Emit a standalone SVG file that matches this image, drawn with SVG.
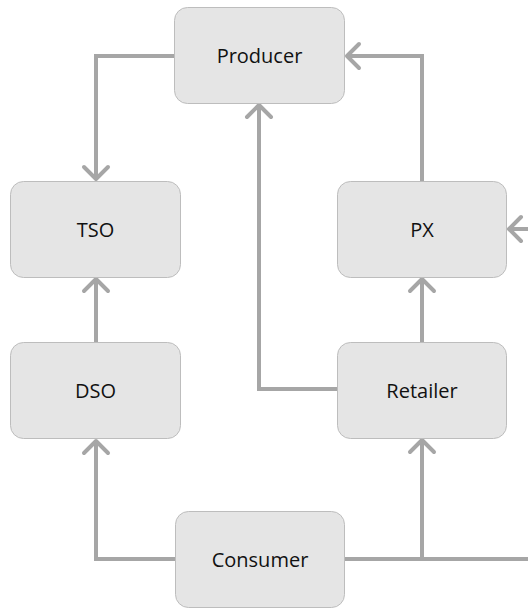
<svg xmlns="http://www.w3.org/2000/svg" width="528" height="608" viewBox="0 0 528 608">
  <style>
    .node rect { fill: #e5e5e5; stroke: #bdbdbd; stroke-width: 1; }
    .node text { font-family: "Open Sans", "Liberation Sans", sans-serif; font-size: 20px; fill: #111; text-anchor: middle; }
    .conn path { fill: none; stroke: #a6a6a6; stroke-width: 4; stroke-linejoin: miter; }
  </style>
  <defs>
    <marker id="chevron" markerUnits="userSpaceOnUse" markerWidth="30" markerHeight="30" viewBox="0 0 30 30" refX="16" refY="15" orient="auto" overflow="visible">
      <path d="M4,3 L16,15 L4,27" fill="none" stroke="#a6a6a6" stroke-width="4" stroke-linecap="round" stroke-linejoin="round"/>
    </marker>
  </defs>

  <rect width="528" height="608" fill="#ffffff"/>

  <g id="connectors" class="conn">
    <path d="M174,56 H96 V179" marker-end="url(#chevron)"/>
    <path d="M96,342 V279" marker-end="url(#chevron)"/>
    <path d="M175,559 H96 V441" marker-end="url(#chevron)"/>
    <path d="M345,559 H528"/>
    <path d="M422,559 V440" marker-end="url(#chevron)"/>
    <path d="M422,342 V279" marker-end="url(#chevron)"/>
    <path d="M422,181 V56 H347" marker-end="url(#chevron)"/>
    <path d="M337,389 H259 V105" marker-end="url(#chevron)"/>
    <path d="M528,229 H509" marker-end="url(#chevron)"/>
  </g>

  <g id="producer" class="node">
    <rect x="174.5" y="7.5" width="170" height="96" rx="13"/>
    <text x="259.5" y="63">Producer</text>
  </g>
  <g id="tso" class="node">
    <rect x="10.5" y="181.5" width="170" height="96" rx="13"/>
    <text x="95.5" y="237">TSO</text>
  </g>
  <g id="px" class="node">
    <rect x="337.5" y="181.5" width="169" height="96" rx="13"/>
    <text x="422" y="237">PX</text>
  </g>
  <g id="dso" class="node">
    <rect x="10.5" y="342.5" width="170" height="96" rx="13"/>
    <text x="95.5" y="398">DSO</text>
  </g>
  <g id="retailer" class="node">
    <rect x="337.5" y="342.5" width="169" height="96" rx="13"/>
    <text x="422" y="398">Retailer</text>
  </g>
  <g id="consumer" class="node">
    <rect x="175.5" y="511.5" width="169" height="96" rx="13"/>
    <text x="260" y="567">Consumer</text>
  </g>
</svg>
